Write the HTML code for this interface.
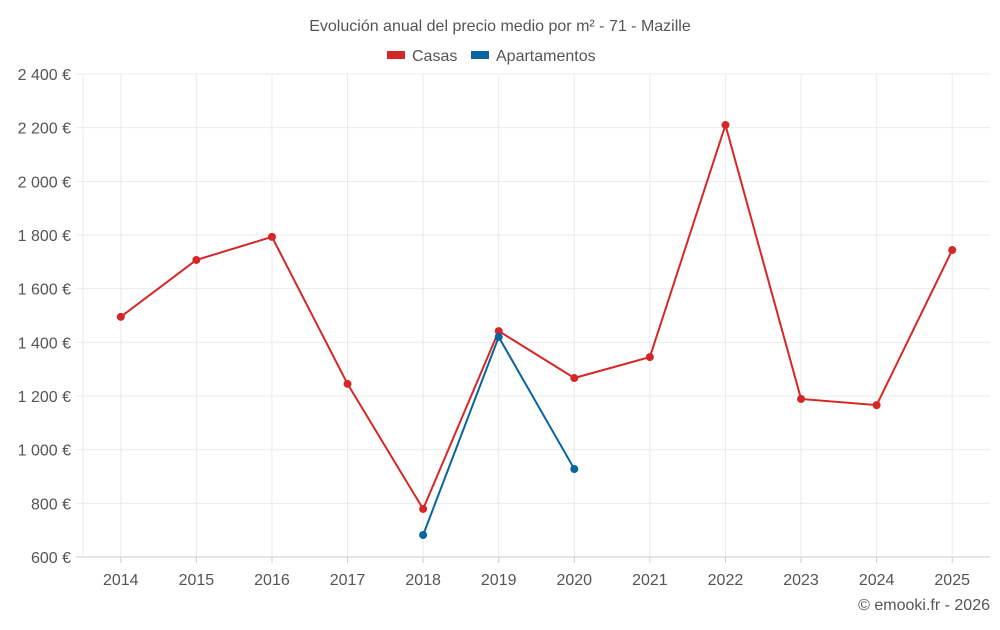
<!DOCTYPE html>
<html><head><meta charset="utf-8"><style>
body{margin:0;background:#fff;font-family:"Liberation Sans",sans-serif}
svg text{font-family:"Liberation Sans",sans-serif}
</style></head><body>
<svg id="c" width="1000" height="625">
<text x="500" y="31" text-anchor="middle" font-size="16" fill="#555">Evolución anual del precio medio por m² - 71 - Mazille</text>
<g>
<g><rect x="387" y="51" width="18" height="8" fill="#d62728"/><text x="412" y="61" font-size="16" fill="#555">Casas</text></g>
<g><rect x="471" y="51" width="18" height="8" fill="#0865a0"/><text x="496" y="61" font-size="16" fill="#555">Apartamentos</text></g>
</g>
<g id="grid"></g><g id="series"></g>
<text x="990" y="610" text-anchor="end" font-size="16" fill="#555">© emooki.fr - 2026</text>
</svg>
<script>
const years=["2014","2015","2016","2017","2018","2019","2020","2021","2022","2023","2024","2025"];
const casas=[1495,1707,1793,1245,779,1442,1267,1345,2210,1189,1166,1744];
const apartamentos=[null,null,null,null,682,1420,928,null,null,null,null,null];
const yTicks=[600,800,1000,1200,1400,1600,1800,2000,2200,2400];
const yTickLabels=["600 €","800 €","1 000 €","1 200 €","1 400 €","1 600 €","1 800 €","2 000 €","2 200 €","2 400 €"];
const L=83,R=990,T=74,B=557,ymin=600,ymax=2400;
const bw=(R-L)/years.length;
const x=i=>L+bw*(i+0.5);
const y=v=>B-(v-ymin)/(ymax-ymin)*(B-T);
const NS="http://www.w3.org/2000/svg";
const grid=document.getElementById('grid'),ser=document.getElementById('series');
function mk(tag,attrs,parent){const e=document.createElementNS(NS,tag);for(const k in attrs)e.setAttribute(k,attrs[k]);parent.appendChild(e);return e;}
yTicks.forEach((v,i)=>{
 const l=mk('line',{x1:76,x2:R,y1:y(v),y2:y(v),stroke:i==0?'#ccc':'#ebebeb'},grid);
 
 
 const t=mk('text',{x:71,y:y(v)+6,'text-anchor':'end','font-size':16,fill:'#555'},grid);t.textContent=yTickLabels[i];
 
 
});
const e0=mk('line',{x1:L,x2:L,y1:T,y2:B,stroke:'#ebebeb'},grid);


years.forEach((yr,i)=>{
 const g=mk('line',{x1:x(i),x2:x(i),y1:T,y2:B,stroke:'#ebebeb'},grid);
 
 
 const t=mk('text',{x:x(i),y:585,'text-anchor':'middle','font-size':16,fill:'#555'},grid);t.textContent=yr;
 
 
 const k=mk('line',{x1:x(i),x2:x(i),y1:B,y2:B+6,stroke:'#ccc'},grid);
 
 
});
function draw(data,color,name){
 const pts=[];data.forEach((v,i)=>{if(v!=null)pts.push([x(i),y(v)]);});
 const p=mk('polyline',{points:pts.map(p=>p.join(',')).join(' '),fill:'none',stroke:color,'stroke-width':2},ser);
 
 
 pts.forEach(q=>{const c=mk('circle',{cx:q[0],cy:q[1],r:4,fill:color},ser);
  
  });
}
draw(casas,'#d62728','casas');
draw(apartamentos,'#0865a0','apartamentos');
</script>
</body></html>
